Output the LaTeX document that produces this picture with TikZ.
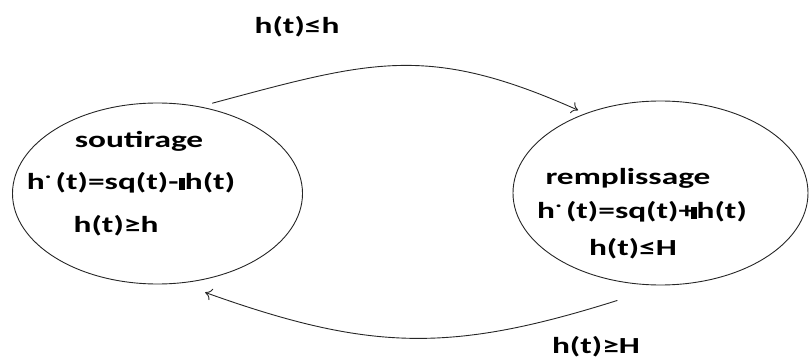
\documentclass[tikz,border=0pt]{standalone}
\usepackage{fontspec}
\usepackage{graphicx}
\setmainfont{Carlito}[FakeStretch=1.45]
\usetikzlibrary{shapes.geometric,arrows.meta}

\newcommand{\hdot}{h\raisebox{1.05ex}{\scalebox{0.8}{.}}\,}
\newcommand{\gapbox}{\rule[0.2pt]{5.5pt}{12pt}}

\tikzset{
  etat/.style={draw=black!85, line width=0.9pt, ellipse, inner sep=0pt},
  txt/.style={font=\fontsize{23}{27}\selectfont\bfseries, inner sep=0pt},
  trans/.style={draw=black!85, line width=0.9pt, -{To[length=6.5pt,width=12pt]}}
}

\begin{document}
\begin{tikzpicture}[x=1pt,y=-1pt]
    \useasboundingbox (0,0) rectangle (809,358);
    \node[etat, minimum width=290pt, minimum height=181pt] (soutir) at (157.5,193.5) {};
    \node[etat, minimum width=295pt, minimum height=184pt] (rempl) at (660.5,193) {};
    \node[txt] (s1) at (139,141) {soutirage};
    \node[txt] (s2) at (131,183) {\hdot(t)=sq(t)-\hspace{1pt}\gapbox h(t)};
    \node[txt] (s3) at (116,226) {h(t)≥h};
    \node[txt] (r1) at (628,178) {remplissage};
    \node[txt] (r2) at (642,212) {\hdot(t)=sq(t)+\hspace{-4pt}\gapbox h(t)};
    \node[txt] (r3) at (633,249) {h(t)≤H};
    \node[txt] (lab1) at (297,27) {h(t)≤h};
    \node[txt] (lab2) at (596,347) {h(t)≥H};
    \coordinate (bdep) at ([yshift=-19pt]rempl.-116);
    \coordinate (barr) at ([yshift=-13pt]soutir.-61);
    \draw[trans] ([yshift=6pt]soutir.57) .. controls +(-15:165) and +(-156:165) .. ([yshift=6pt]rempl.137);
    \draw[trans] (bdep) .. controls +(162.5:175) and +(19.7:175) .. (barr);
  \end{tikzpicture}
\end{document}
